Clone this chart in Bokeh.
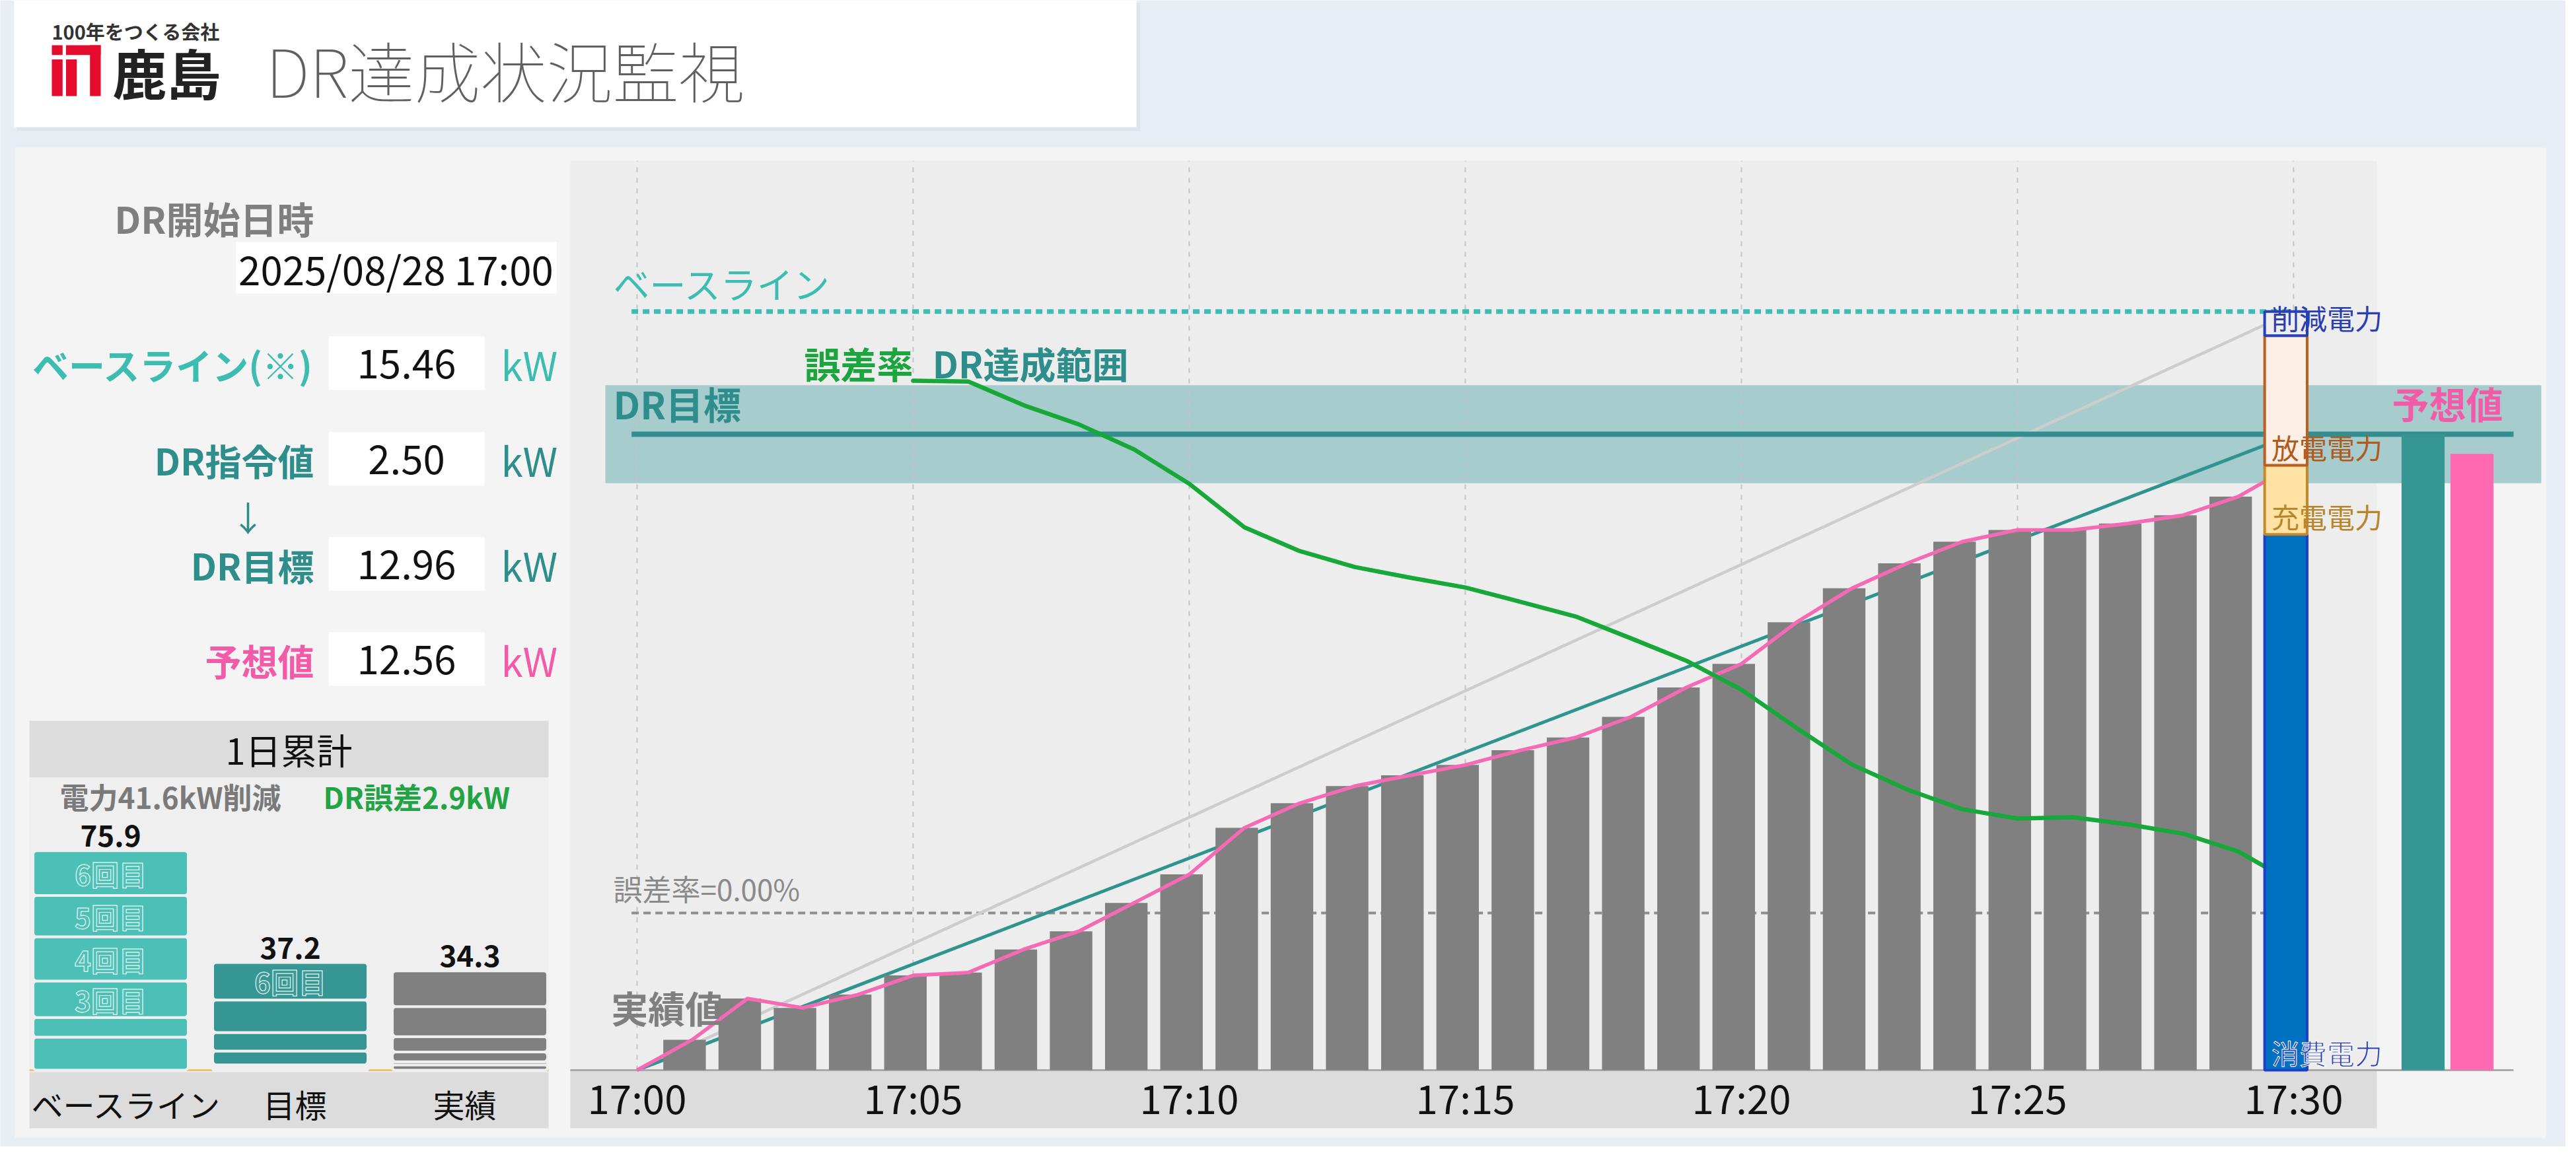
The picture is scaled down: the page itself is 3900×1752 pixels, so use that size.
import numpy as np
from bokeh.plotting import figure
from bokeh.models import Range1d, VBar, Text
from bokeh.core.properties import value
from bokeh.embed import file_html
from bokeh.resources import INLINE

# ------------------------------------------------------------------ data
DR_START = "2025/08/28 17:00"
BASELINE_KW = 15.46
DR_COMMAND_KW = 2.50
DR_TARGET_KW = round(BASELINE_KW - DR_COMMAND_KW, 2)   # 12.96
FORECAST_KW = 12.56
DR_BAND_KW = 1.0

BAR_MINUTES = list(range(1, 30))
ACTUAL_CUM_KW = [0.62, 1.46, 1.27, 1.54, 1.93, 1.99, 2.46, 2.83, 3.41, 3.99,
                 4.94, 5.44, 5.79, 6.01, 6.22, 6.52, 6.78, 7.20, 7.80, 8.28,
                 9.13, 9.82, 10.33, 10.77, 11.01, 11.01, 11.14, 11.31, 11.69]
LINE_MINUTES = list(range(0, 31))
ACTUAL_LINE_KW = [0.0] + ACTUAL_CUM_KW + [12.33]

LAST_MINUTE = 30
LAST_PARTS = ["消費電力", "充電電力", "放電電力", "削減電力"]
LAST_PARTS_KW = [10.92, 1.41, 2.64, 0.49]

ERR_MINUTES = list(range(5, 31))
ERR_RATE_PCT = [20.0, 19.97, 19.08, 18.36, 17.42, 16.13, 14.49, 13.6, 13.0, 12.6,
                12.23, 11.69, 11.14, 10.32, 9.48, 8.39, 6.95, 5.58, 4.64, 3.9,
                3.55, 3.6, 3.33, 2.98, 2.31, 1.12]

TICK_MINUTES = [0, 5, 10, 15, 20, 25, 30]
TICK_LABELS = ["17:00", "17:05", "17:10", "17:15", "17:20", "17:25", "17:30"]

RIGHT_BARS = ["DR目標", "予想値"]
RIGHT_BARS_KW = [DR_TARGET_KW, FORECAST_KW]

CUM_CATEGORIES = ["ベースライン", "目標", "実績"]
CUM_ROUNDS = ["1回目", "2回目", "3回目", "4回目", "5回目", "6回目"]
CUM_BASELINE = [11.4, 6.8, 12.6, 15.3, 14.3, 15.46]
CUM_TARGET = [0.9, 0.9, 4.8, 6.4, 11.24, 12.96]
CUM_ACTUAL = [1.8, 1.1, 3.4, 5.3, 10.37, 12.33]
CUM_LABELED = [["3回目", "4回目", "5回目", "6回目"], ["6回目"], []]

INFO_LABELS = ["ベースライン(※)", "DR指令値", "DR目標", "予想値"]
INFO_VALUES = [BASELINE_KW, DR_COMMAND_KW, DR_TARGET_KW, FORECAST_KW]

# ------------------------------------------------------------------ layout / style
W, H, M = 3884, 1736, 8
PAGE_BG = "#E9EDF4"
FONT = "Noto Sans CJK JP"
TEAL_L = "#3DBDB1"
TEAL_D = "#2E8E8C"
PINK_T = "#F25BA8"
GREEN = "#1AA63C"

T_X0, T_PX = 972.0, 83.6       # pixel of 17:00, pixels per minute
KW_Y0, KW_PX = 1628.0, 74.3    # pixel of 0 kW, pixels per kW
ERR_Y0, ERR_PX = 1390.0, 40.3  # pixel of 0 %, pixels per %
C_X0, C_DX = 175.0, 272.0      # cumulative chart
C_Y0, C_PX = 1628.0, 4.38

BAR_SHIFT, BAR_W = -0.14, 0.77


def xr(x0, k):
    return Range1d(start=(M - x0) / k, end=(M + W - x0) / k)


def yr(y0, k):
    return Range1d(start=(y0 - (M + H)) / k, end=(y0 - M) / k)


p = figure(width=W, height=H, x_range=Range1d(M, M + W), y_range=Range1d(M + H, M),
           output_backend="svg", toolbar_location=None,
           x_axis_location=None, y_axis_location=None, min_border=0,
           outline_line_color=None, background_fill_color=PAGE_BG,
           border_fill_color=PAGE_BG)
p.xgrid.visible = False
p.ygrid.visible = False
p.extra_x_ranges = {"t": xr(T_X0, T_PX), "c": xr(C_X0, C_DX)}
p.extra_y_ranges = {"kw": yr(KW_Y0, KW_PX), "err": yr(ERR_Y0, ERR_PX), "c": yr(C_Y0, C_PX)}

HAS_OUTLINE = "text_outline_color" in Text.properties()
HAS_RADIUS = "border_radius" in VBar.properties()

TK = dict(x_range_name="t", y_range_name="kw")
CK = dict(x_range_name="c", y_range_name="c")
EK = dict(x_range_name="t", y_range_name="err")


def box(l, r, t, b, color):
    p.quad(left=[l], right=[r], top=[t], bottom=[b], fill_color=color, line_color=None)


def label(x, y, s, size, color, align="left", baseline="middle", bold=False,
          glow=None, x_off=0, y_off=0, **rk):
    xs = x if isinstance(x, list) else [x]
    ys = y if isinstance(y, list) else [y] * len(xs)
    ss = s if isinstance(s, list) else [s]
    kw = dict(text_font=value(FONT), text_font_size=value(f"{size}px"),
              text_color=color, text_align=align, text_baseline=baseline,
              text_font_style="bold" if bold else "normal",
              x_offset=x_off, y_offset=y_off)
    if glow and HAS_OUTLINE:
        kw["text_outline_color"] = glow
    p.text(x=xs, y=ys, text=ss, **kw, **rk)


# ------------------------------------------------------------------ header
box(33, 1734, 12, 206, "#DFE3EA")
box(29, 1728, 8, 200, "#FFFFFF")
label(86, 54, "100年をつくる会社", 29, "#333333", bold=True)
lx, ly, lw, lh = 86, 76, 74, 77
for fl, fr, ft, fb in [(0, .22, 0, .19), (0, .22, .28, 1), (.29, 1, 0, .19),
                       (.29, .51, .28, 1), (.78, 1, 0, 1)]:
    box(lx + fl * lw, lx + fr * lw, ly + ft * lh, ly + fb * lh, "#E50B2C")
label(178, 116, "鹿島", 82, "#222222", bold=True)
label(410, 112, "DR達成状況監視", 100, "#606060")

# ------------------------------------------------------------------ main panel
box(30, 3862, 231, 1730, "#F4F4F4")

# left info
label(483, 337, "DR開始日時", 56, "#7F7F7F", align="right", bold=True)
box(365, 850, 374, 452, "#FFFFFF")
label(607, 413, DR_START, 60, "#111111", align="center")
INFO_Y = [558, 703, 862, 1006]
INFO_COL = [TEAL_L, TEAL_D, TEAL_D, PINK_T]
for lab, v, yy, col in zip(INFO_LABELS, INFO_VALUES, INFO_Y, INFO_COL):
    label(483, yy, lab, 55, col, align="right", bold=True)
    box(505, 741, yy - 41, yy + 40, "#FFFFFF")
    label(623, yy, f"{v:.2f}", 60, "#111111", align="center")
    label(766, yy, "kW", 60, col)
label(383, 790, "↓", 52, TEAL_D, align="center")

# cumulative (1日累計)
box(52, 838, 1099, 1185, "#DCDCDC")
box(52, 838, 1185, 1631, "#EFEFEF")
box(52, 838, 1631, 1716, "#DCDCDC")
label(445, 1142, "1日累計", 54, "#111111", align="center")
tot_b, tot_t, tot_a = sum(CUM_BASELINE), sum(CUM_TARGET), sum(CUM_ACTUAL)
label(98, 1213, f"電力{tot_b - tot_a:.1f}kW削減", 44, "#7A7A7A", bold=True)
label(497, 1213, f"DR誤差{tot_t - tot_a:.1f}kW", 44, "#22A445", bold=True)
p.segment(x0=[52], x1=[838], y0=[1628], y1=[1628], line_color="#EFC56A", line_width=3)

cum_series = [CUM_BASELINE, CUM_TARGET, CUM_ACTUAL]
cum_colors = ["#4CBFB6", "#359693", "#808080"]
cum_text = ["#4FC2B8", "#3A9C98", "#808080"]
for i, (vals, col) in enumerate(zip(cum_series, cum_colors)):
    tops = list(np.cumsum(vals))
    bots = [t - v for t, v in zip(tops, vals)]
    extra = {"border_radius": 6} if HAS_RADIUS else {}
    p.vbar(x=[i] * len(vals), width=0.864, bottom=bots, top=tops, fill_color=col,
           line_color="#EFEFEF", line_width=4, **extra, **CK)
    label(i, tops[-1], f"{tops[-1]:.1f}", 44, "#111111", align="center",
          baseline="bottom", bold=True, y_off=-6, **CK)
    for rnd, b, t in zip(CUM_ROUNDS, bots, tops):
        if rnd in CUM_LABELED[i]:
            label(i, (b + t) / 2, rnd, 42, cum_text[i], align="center",
                  bold=True, glow="#FFFFFF", **CK)
for i, (cat, xo) in enumerate(zip(CUM_CATEGORIES, [24, 7, -8])):
    label(i, 0, cat, 48, "#111111", align="center", y_off=50, x_off=xo, **CK)

# main chart area
box(871, 3606, 251, 1628, "#EDEDED")
box(871, 3606, 1628, 1716, "#DCDCDC")
kw_top = (KW_Y0 - 251) / KW_PX
x_left = (871 - T_X0) / T_PX
x_band_r = (3855 - T_X0) / T_PX
x_line_r = (3813 - T_X0) / T_PX

# DR achievement band
p.quad(left=[(924 - T_X0) / T_PX], right=[x_band_r],
       bottom=[DR_TARGET_KW - DR_BAND_KW], top=[DR_TARGET_KW + DR_BAND_KW],
       fill_color="#A7CCCD", line_color=None, **TK)
# grid lines
p.segment(x0=TICK_MINUTES, x1=TICK_MINUTES, y0=[0] * 7, y1=[kw_top] * 7,
          line_color="#C4C4C4", line_width=2, line_dash="7 9", **TK)
# error 0% line
p.segment(x0=[-0.1], x1=[LAST_MINUTE + BAR_SHIFT], y0=[0], y1=[0],
          line_color="#8E8E8E", line_width=4, line_dash="11 7", **EK)
# diagonal reference lines
p.line(x=[0, LAST_MINUTE], y=[0, BASELINE_KW], line_color="#CDCDCD", line_width=4.5, **TK)
p.line(x=[0, LAST_MINUTE], y=[0, DR_TARGET_KW], line_color="#2E9490", line_width=5, **TK)
# baseline dotted + target line
p.line(x=[-0.1, LAST_MINUTE], y=[BASELINE_KW, BASELINE_KW], line_color="#3CBDB1",
       line_width=7, line_dash="10 7", **TK)
p.line(x=[-0.1, x_line_r], y=[DR_TARGET_KW, DR_TARGET_KW], line_color="#338F8F",
       line_width=8, **TK)
# zero axis line
p.line(x=[x_left, x_line_r], y=[0, 0], line_color="#A9A9A9", line_width=3, **TK)
# actual bars
p.vbar(x=[m + BAR_SHIFT for m in BAR_MINUTES], width=BAR_W, bottom=0,
       top=ACTUAL_CUM_KW, fill_color="#808080", line_color=None, **TK)
# actual line
p.line(x=LINE_MINUTES, y=ACTUAL_LINE_KW, line_color="#F66AB5", line_width=5.5,
       line_join="round", **TK)
# error-rate line
p.line(x=ERR_MINUTES, y=ERR_RATE_PCT, line_color="#18A83A", line_width=6.5,
       line_join="round", line_cap="round", **EK)
# last (stacked) bar
last_tops = list(np.cumsum(LAST_PARTS_KW))
last_bots = [t - v for t, v in zip(last_tops, LAST_PARTS_KW)]
p.vbar(x=[LAST_MINUTE + BAR_SHIFT] * 4, width=BAR_W, bottom=last_bots, top=last_tops,
       fill_color=["#0070C0", "#FFE2A4", "#FDEEE6", "#EEEEEE"],
       line_color=["#1E3FC8", "#C4892B", "#B9601E", "#2640B8"], line_width=4, **TK)
for part, b, col in zip(LAST_PARTS, last_bots,
                        ["#2A3EB0", "#B8862A", "#B05A1C", "#2A3EB0"]):
    label(LAST_MINUTE + BAR_SHIFT - 0.26, b, part, 42, col, baseline="bottom",
          y_off=3, glow="#FFFFFF" if part == "消費電力" else None, **TK)

# right bars
rb_x = [(3676 - T_X0) / T_PX, (3750 - T_X0) / T_PX]
p.vbar(x=rb_x, width=0.78, bottom=0, top=RIGHT_BARS_KW,
       fill_color=["#359693", "#FF69B4"], line_color=None, **TK)
label(sum(rb_x) / 2, DR_TARGET_KW, "予想値", 56, PINK_T, align="center",
      baseline="bottom", bold=True, y_off=-8, **TK)

# chart texts
label(-0.43, BASELINE_KW, "ベースライン", 55, "#3CBDB1", baseline="bottom", y_off=-4, **TK)
label(-0.43, DR_TARGET_KW, "DR目標", 57, TEAL_D, baseline="bottom", bold=True,
      y_off=-7, **TK)
label(ERR_MINUTES[0], ERR_RATE_PCT[0], "誤差率", 55, GREEN, align="right",
      baseline="bottom", bold=True, y_off=12, **EK)
label(ERR_MINUTES[0] + 0.35, ERR_RATE_PCT[0], "DR達成範囲", 55, TEAL_D,
      baseline="bottom", bold=True, y_off=12, **EK)
label(-0.43, 0, "誤差率=0.00%", 44, "#8A8A8A", baseline="bottom", y_off=-6, **EK)
label(-0.47, ACTUAL_CUM_KW[0], "実績値", 56, "#7F7F7F", bold=True, y_off=-50, **TK)
label(TICK_MINUTES, 0, TICK_LABELS, 60, "#111111", align="center", y_off=40, **TK)

html = file_html(p, INLINE, title="DR達成状況監視")
html = html.replace("<body>", f'<body style="background-color:{PAGE_BG};">', 1)
open("out.html", "w").write(html)
